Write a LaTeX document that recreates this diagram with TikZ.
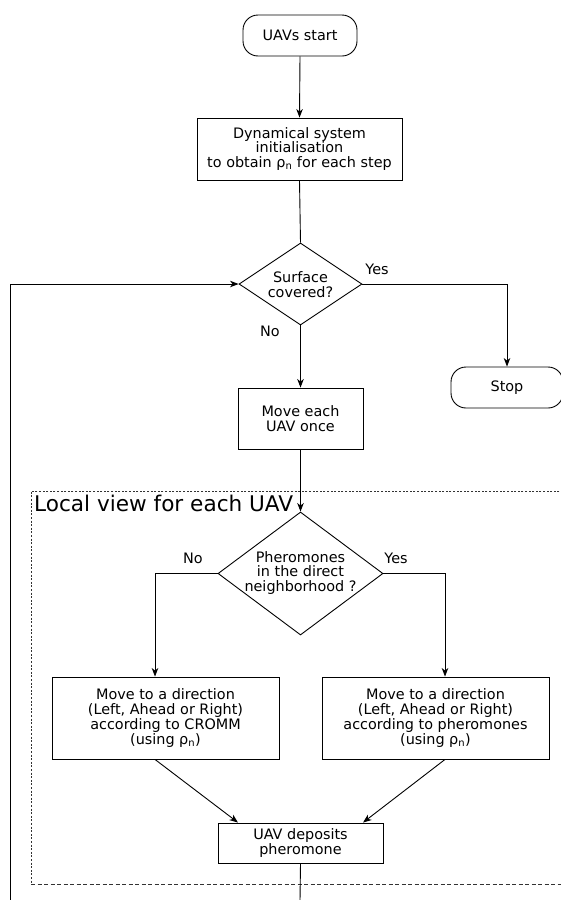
\documentclass[tikz,border=0pt]{standalone}
\usepackage{fontspec}
\setmainfont{DejaVu Sans}
\usetikzlibrary{shapes.geometric,arrows.meta}
\tikzset{
  base/.style={font=\fontsize{14.4}{14.8}\selectfont, align=center},
  box/.style={base, draw, line width=0.9pt, inner sep=0pt},
  term/.style={box, rounded corners=15pt},
  dia/.style={draw, diamond, line width=0.9pt, inner sep=0pt},
  lbl/.style={base, inner sep=0pt},
  conn/.style={line width=0.9pt},
  arr/.style={conn, -{Stealth[length=8.5pt,width=6.5pt,inset=2.5pt]}},
  frame/.style={line width=0.9pt, gray!40!black},
}
\begin{document}
\begin{tikzpicture}[x=1pt,y=-1pt]
\useasboundingbox (0,0) rectangle (560,900);
\fill[white] (0,0) rectangle (560,900);

% local view frame
\coordinate (fa) at (31,491);
\coordinate (fb) at (566,491);
\coordinate (fc) at (566,884);
\coordinate (fd) at (31,884);
\draw[frame, dash pattern=on 2pt off 1.6pt] (fc) -- (fb) -- (fa) -- (fd);
\draw[frame, dash pattern=on 4pt off 2.5pt] (fd) -- (fc);
\node[lbl, font=\fontsize{21.6}{23}\selectfont, anchor=base west] (loc) at (34,511) {Local view for each UAV};

% nodes
\node[term, minimum width=114pt, minimum height=41pt] (start) at (300,35.5) {UAVs start};
\node[box, minimum width=205pt, minimum height=62pt] (init) at (299.5,149)
  {Dynamical system\\initialisation\\ to obtain ρ\textsubscript{n} for each step};
\node[dia, minimum width=123pt, minimum height=82pt] (d1) at (300.5,284) {};
\node[lbl] (d1t) at (300.5,285) {Surface\\covered?};
\node[lbl] (yes1) at (377,269) {Yes};
\node[lbl] (no1) at (270,331) {No};
\node[term, minimum width=112pt, minimum height=41pt] (stop) at (507,387.5) {Stop};
\node[box, minimum width=125pt, minimum height=61pt] (move) at (300.5,418.5) {Move each\\UAV once};

\node[dia, minimum width=165pt, minimum height=123pt] (d2) at (300.5,573.5) {};
\node[lbl] (d2t) at (300.5,573) {Pheromones\\in the direct\\neighborhood ?};
\node[lbl] (no2) at (193,558) {No};
\node[lbl] (yes2) at (396,558) {Yes};

\node[box, minimum width=227pt, minimum height=82pt] (left) at (165.5,718)
  {Move to a direction\\(Left, Ahead or Right)\\according to CROMM\\(using ρ\textsubscript{n})};
\node[box, minimum width=227pt, minimum height=82pt] (right) at (435.5,718)
  {Move to a direction\\(Left, Ahead or Right)\\according to pheromones\\(using ρ\textsubscript{n})};
\node[box, minimum width=165pt, minimum height=40pt] (dep) at (300.5,843) {UAV deposits\\pheromone};

\coordinate (loopb) at (10,901);
\coordinate (depb) at (300,901);

% connectors
\draw[arr] (start.south) -- (init.north);
\draw[conn] (init.south) -- (d1.north);
\draw[arr] (d1.east) -| (stop.north);
\draw[arr] (d1.south) -- (move.north);
\draw[arr] (move.south) -- (d2.north);
\draw[arr] (d2.west) -| ([xshift=-10.5pt]left.north);
\draw[arr] (d2.east) -| ([xshift=9.5pt]right.north);
\draw[arr] ([xshift=-10.5pt]left.south) -- ([xshift=-62.5pt]dep.north);
\draw[arr] ([xshift=9.5pt]right.south) -- ([xshift=62.5pt]dep.north);
\draw[conn] (dep.south) -- (depb);
\draw[arr] (loopb) |- (d1.west);
\end{tikzpicture}
\end{document}
